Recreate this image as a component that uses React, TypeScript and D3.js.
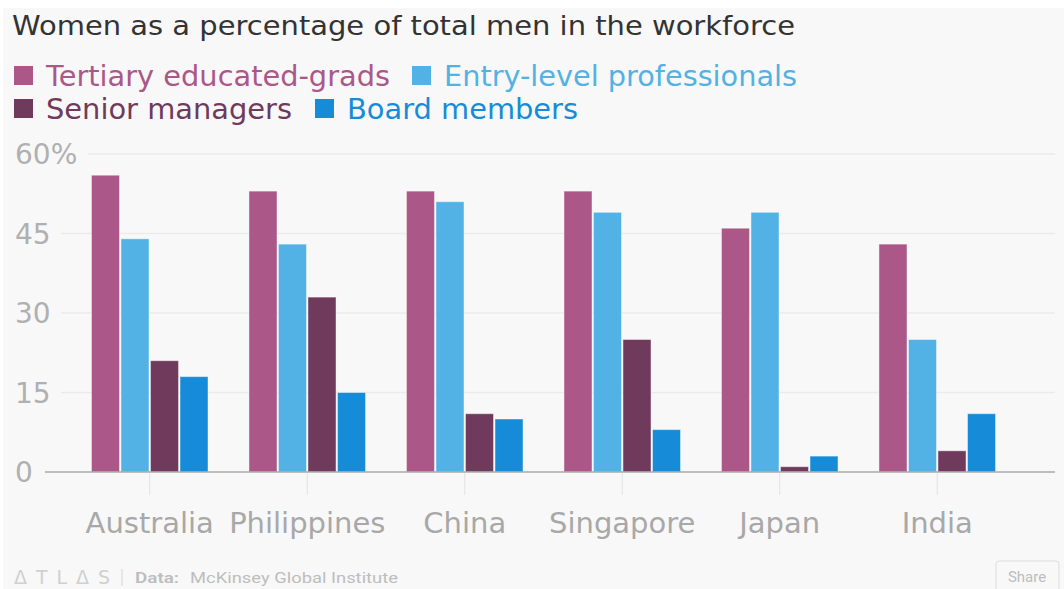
import React from 'react';
import * as d3 from 'd3';

const countries = ['Australia', 'Philippines', 'China', 'Singapore', 'Japan', 'India'];
const seriesNames = ['Tertiary educated-grads', 'Entry-level professionals', 'Senior managers', 'Board members'];
const seriesColors = ['#ab5787', '#52b2e5', '#6f3a5b', '#168cd9'];
const tertiary = [56, 53, 53, 53, 46, 43];
const entryLevel = [44, 43, 51, 49, 49, 25];
const seniorManagers = [21, 33, 11, 25, 1, 4];
const boardMembers = [18, 15, 10, 8, 3, 11];
const yTicks = [0, 15, 30, 45, 60];

const W = 1064;
const H = 589;
const FONT = '"DejaVu Sans", sans-serif';

const App = () => {
  const series = [tertiary, entryLevel, seniorManagers, boardMembers];
  const x = d3.scaleBand<string>().domain(countries).range([71, 1016]).paddingInner(0.26).paddingOuter(0.13);
  const xSub = d3.scaleBand<number>().domain([0, 1, 2, 3]).range([0, x.bandwidth()]).paddingInner(0.05);
  const y = d3.scaleLinear().domain([0, 60]).range([472, 154]);

  // legend layout: two rows
  const legend = [
    { i: 0, x: 14, y: 76, w: 344 },
    { i: 1, x: 412, y: 76, w: 353 },
    { i: 2, x: 14, y: 109, w: 246 },
    { i: 3, x: 315, y: 109, w: 231 },
  ];

  return (
    <svg width={W} height={H} style={{ position: 'absolute', left: 0, top: 0, display: 'block' }} fontFamily={FONT}>
      <rect x={0} y={0} width={W} height={H} fill="#fff" />
      <rect x={3} y={8} width={W - 3} height={H - 8} fill="#f8f8f8" />

      <text x={12} y={35} fontSize={27} fill="#333" textLength={783} lengthAdjust="spacingAndGlyphs">
        Women as a percentage of total men in the workforce
      </text>

      {legend.map(l => (
        <g key={l.i}>
          <rect x={l.x} y={l.y - 10} width={19} height={19} fill={seriesColors[l.i]} />
          <text x={l.x + 32} y={l.y} dy="0.36em" fontSize={28} fill={seriesColors[l.i]}
            textLength={l.w} lengthAdjust="spacingAndGlyphs">{seriesNames[l.i]}</text>
        </g>
      ))}

      {/* gridlines + y labels */}
      {yTicks.map(t => {
        const label = t === 60 ? '60%' : String(t);
        const labelW = label.length === 3 ? 62 : label.length === 2 ? 35 : 18;
        return (
          <g key={t}>
            {t !== 0 && (
              <line x1={17 + labelW + 9} x2={1055} y1={y(t)} y2={y(t)} stroke="#ebebeb" strokeWidth={1.5} />
            )}
            <text x={15} y={y(t)} dy="0.36em" fontSize={28} fill="#b0b0b0">{label}</text>
          </g>
        );
      })}

      {/* bars */}
      {countries.map((c, ci) => (
        <g key={c} transform={`translate(${x(c)},0)`}>
          {series.map((s, si) => (
            <rect
              key={si}
              x={xSub(si)}
              y={y(s[ci])}
              width={xSub.bandwidth()}
              height={y(0) - y(s[ci])}
              fill={seriesColors[si]}
              stroke="#ffffff"
              strokeOpacity={0.45}
              strokeWidth={1}
            />
          ))}
        </g>
      ))}

      {/* x axis */}
      <line x1={45} x2={1055} y1={y(0)} y2={y(0)} stroke="#aaaaaa" strokeWidth={1.5} />
      {countries.map(c => {
        const cx = (x(c) ?? 0) + x.bandwidth() / 2;
        return (
          <g key={c}>
            <line x1={cx} x2={cx} y1={y(0) + 1} y2={y(0) + 23} stroke="#e2e2e2" strokeWidth={1} />
            <text x={cx} y={533} textAnchor="middle" fontSize={29} fill="#a8a8a8">{c}</text>
          </g>
        );
      })}

      {/* footer */}
      <text x={14} y={584} fontSize={19} fill="#d0d0d0" textLength={96} lengthAdjust="spacing">ΔTLΔS</text>
      <line x1={122} x2={122} y1={569} y2={586} stroke="#d5d5d5" strokeWidth={1} />
      <text x={135} y={583} fontSize={15} fontFamily="Roboto, sans-serif" fontWeight={600} fill="#bdbdbd"
        textLength={44} lengthAdjust="spacingAndGlyphs">Data:</text>
      <text x={190} y={583} fontSize={15} fontFamily="Roboto, sans-serif" fill="#bdbdbd"
        textLength={208} lengthAdjust="spacingAndGlyphs">McKinsey Global Institute</text>
      <rect x={996} y={561} width={63} height={32} rx={3} fill="#f8f8f8" stroke="#dddddd" />
      <text x={1027} y={582} textAnchor="middle" fontSize={15} fontFamily="Roboto, sans-serif" fill="#bdbdbd">Share</text>
    </svg>
  );
};

export default App;
